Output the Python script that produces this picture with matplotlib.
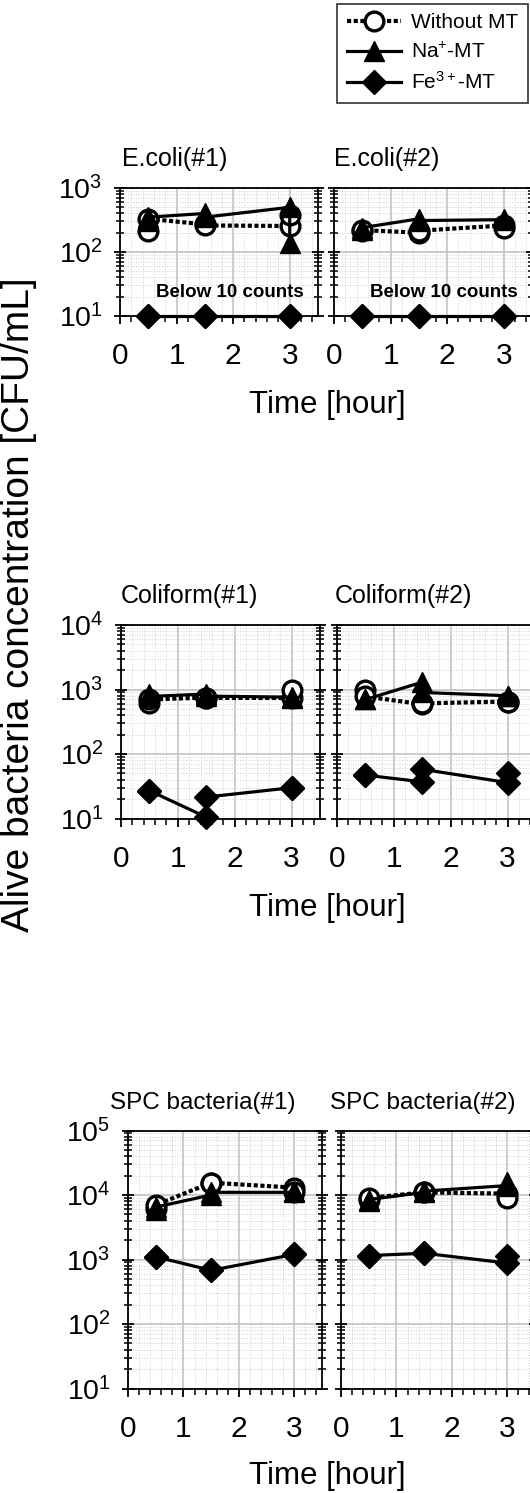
import numpy as np
import matplotlib
matplotlib.use("Agg")
import matplotlib.pyplot as plt
from matplotlib.ticker import MultipleLocator, LogLocator, NullFormatter, LogFormatterSciNotation
from matplotlib.lines import Line2D

plt.rcParams['font.family'] = ['Liberation Sans', 'DejaVu Sans']
plt.rcParams['mathtext.fontset'] = 'custom'
plt.rcParams['mathtext.rm'] = 'Liberation Sans'
plt.rcParams['mathtext.it'] = 'Liberation Sans:italic'
plt.rcParams['mathtext.bf'] = 'Liberation Sans:bold'

# two replicates per time point, in the order the line visits them
t = [0.5, 0.5, 1.5, 1.5, 3.0, 3.0]

ecoli1_wo = [210, 330, 270, 260, 255, 380]
ecoli1_na = [300, 350, 400, 350, 500, 140]
ecoli1_fe = [10, 10, 10, 10, 10, 10]

ecoli2_wo = [210, 220, 200, 215, 260, 240]
ecoli2_na = [220, 240, 330, 310, 320, 330]
ecoli2_fe = [10, 10, 10, 10, 10, 10]

coli1_wo = [610, 700, 750, 740, 740, 1000]
coli1_na = [850, 780, 850, 790, 760, 740]
coli1_fe = [27, 27, 10.5, 21.5, 30, 30]

coli2_wo = [1000, 780, 590, 610, 650, 630]
coli2_na = [720, 700, 1300, 900, 800, 800]
coli2_fe = [47, 47, 37, 58, 36, 50]

spc1_wo = [6000, 7000, 15500, 15500, 13000, 11000]
spc1_na = [5800, 6500, 10000, 11000, 11000, 11500]
spc1_fe = [1100, 1100, 680, 680, 1200, 1200]

spc2_wo = [8500, 9000, 11000, 11000, 10500, 9000]
spc2_na = [8000, 8500, 11000, 11500, 14000, 16000]
spc2_fe = [1150, 1150, 1250, 1250, 880, 1150]

titles = ['E.coli(#1)', 'E.coli(#2)', 'Coliform(#1)', 'Coliform(#2)',
          'SPC bacteria(#1)', 'SPC bacteria(#2)']
ymax = [1e3, 1e3, 1e4, 1e4, 1e5, 1e5]
labels = ['Without MT', 'Na$^{+}$-MT', 'Fe$^{3+}$-MT']

W, H = 530, 1493
fig = plt.figure(figsize=(W / 100, H / 100), dpi=100)

def add_ax(x0, x1, y0, y1):
    return fig.add_axes([x0 / W, 1 - y1 / H, (x1 - x0) / W, (y1 - y0) / H])

# pixel boxes of the six panels
boxes = [(120, 318, 188, 316), (334, 532, 188, 316),
         (121, 320, 625, 818.5), (337, 536, 625, 818.5),
         (128, 322, 1130.5, 1388.5), (341, 535, 1130.5, 1388.5)]
title_x = [122, 334, 121, 335, 110, 330]
title_size = [18, 18, 18, 18, 17.5, 17.5]

series = [(ecoli1_wo, ecoli1_na, ecoli1_fe), (ecoli2_wo, ecoli2_na, ecoli2_fe),
          (coli1_wo, coli1_na, coli1_fe), (coli2_wo, coli2_na, coli2_fe),
          (spc1_wo, spc1_na, spc1_fe), (spc2_wo, spc2_na, spc2_fe)]

wo_style = dict(color='black', lw=3, dashes=(1, 0.6), marker='o', ms=13.5,
                mfc='white', mec='black', mew=2.4)
na_style = dict(color='black', lw=2.3, marker='^', ms=15)
fe_style = dict(color='black', lw=2.3, marker='D', ms=12.5)

for i, (box, (wo, na, fe)) in enumerate(zip(boxes, series)):
    ax = add_ax(*box)
    ax.set_yscale('log')
    ax.set_xlim(0, 3.5)
    ax.set_ylim(10, ymax[i])

    ax.plot(t, wo, clip_on=False, zorder=3, **wo_style)
    ax.plot(t, na, clip_on=False, zorder=4, **na_style)
    ax.plot(t, fe, clip_on=False, zorder=5, **fe_style)

    ax.xaxis.set_major_locator(MultipleLocator(1))
    ax.xaxis.set_minor_locator(MultipleLocator(0.2))
    ax.yaxis.set_major_locator(LogLocator(base=10, numticks=10))
    ax.yaxis.set_minor_locator(LogLocator(base=10, subs=np.arange(2, 10), numticks=20))
    ax.yaxis.set_minor_formatter(NullFormatter())

    ax.grid(which='major', color='#c4c4c4', lw=1.2, ls='-')
    ax.grid(which='minor', color='#d0d0d0', lw=0.7, ls=':')
    ax.set_axisbelow(True)

    for s in ax.spines.values():
        s.set_linewidth(1.3)

    ax.tick_params(axis='x', which='both', direction='out', top=False,
                   labelsize=21.5, pad=13)
    ax.tick_params(axis='x', which='major', length=6, width=1.3)
    ax.tick_params(axis='x', which='minor', length=4, width=1.1)
    ax.tick_params(axis='y', which='both', direction='inout', left=True,
                   right=True, labelsize=20.5, pad=8)
    ax.tick_params(axis='y', which='major', length=9, width=1.3)
    ax.tick_params(axis='y', which='minor', length=6, width=1.1)
    if i % 2 == 1:
        ax.tick_params(axis='y', labelleft=False)
    else:
        ax.yaxis.set_major_formatter(LogFormatterSciNotation())

    fig.text(title_x[i] / W, 1 - (box[2] - 22) / H, titles[i],
             fontsize=title_size[i], ha='left', va='baseline')

    if i < 2:
        ax.text(1.95, 23, 'Below 10 counts', fontsize=13.5, fontweight='bold',
                ha='center', va='center', zorder=6)

for yc in [405, 908, 1476]:
    fig.text(327 / W, 1 - yc / H, 'Time [hour]', fontsize=22.5,
             ha='center', va='center')

fig.text(19 / W, 1 - 605 / H, 'Alive bacteria concentration [CFU/mL]',
         fontsize=28, rotation=90, ha='center', va='center')

handles = [Line2D([], [], **wo_style), Line2D([], [], **na_style),
           Line2D([], [], **fe_style)]
leg = fig.legend(handles, labels, loc='upper right',
                 bbox_to_anchor=(528 / W, 1 - 4 / H), fontsize=15,
                 frameon=True, fancybox=False, edgecolor='black',
                 handlelength=2.6, handletextpad=0.5, labelspacing=0.45,
                 borderpad=0.45, borderaxespad=0)
leg.get_frame().set_linewidth(1.2)

fig.savefig('out.png', dpi=100)
